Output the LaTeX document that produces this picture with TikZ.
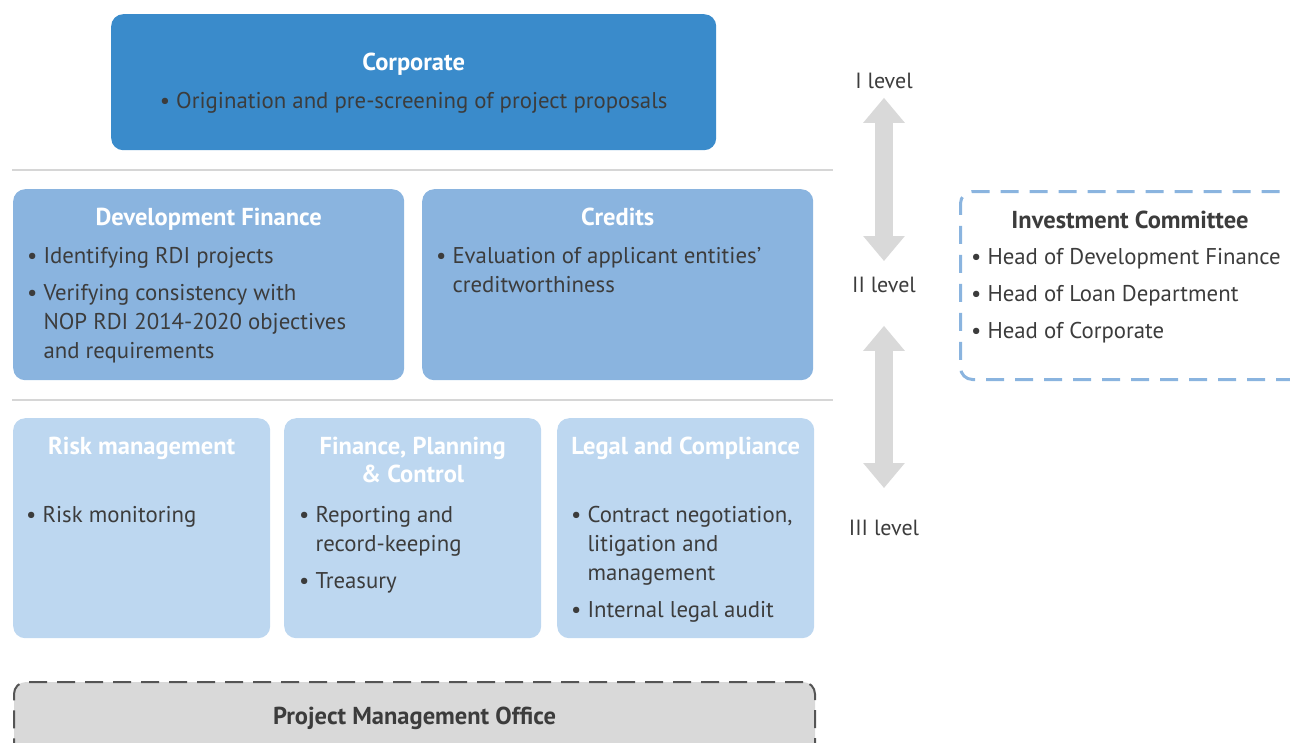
\documentclass[tikz,border=0pt]{standalone}
\usepackage{fontspec}
\setmainfont{PT Sans}
\usetikzlibrary{calc, arrows.meta}

\definecolor{corpblue}{HTML}{3A8BCB}
\definecolor{midblue}{HTML}{8AB4DF}
\definecolor{paleblue}{HTML}{BDD7F0}
\definecolor{levelgray}{HTML}{D9D9D9}
\definecolor{rulegray}{HTML}{D6D6D6}
\definecolor{dashgray}{HTML}{555555}
\definecolor{inkgray}{HTML}{3C3C3C}

\newcommand{\bul}{\textbullet}
\newcommand{\itemlist}[1]{\begin{tabular}[t]{@{}l@{\hspace{6pt}}l@{}}#1\end{tabular}}

\begin{document}
\begin{tikzpicture}[x=1pt, y=-1pt,
    box/.style={rectangle, rounded corners=12pt, anchor=north west, inner sep=0pt},
    head/.style={anchor=base, inner sep=0pt, text=white, font=\fontsize{24.5}{28}\selectfont\bfseries},
    items/.style={anchor=base west, inner sep=0pt, text=inkgray, font=\fontsize{22.8}{29}\selectfont},
    level/.style={anchor=base, text=inkgray, font=\fontsize{22}{29}\selectfont},
    levelarrow/.style={draw=levelgray, line width=18pt, {Triangle[width=40pt, length=25pt]}-{Triangle[width=40pt, length=25pt]}},
    rule/.style={draw=rulegray, line width=2pt}]

    \useasboundingbox (0,0) rectangle (1290,742);
    \clip (0,0) rectangle (1290,742);

    %% Level I
    \node (corp) [box, fill=corpblue, minimum width=605pt, minimum height=136pt] at (111,14) {};
    \node (corphead) [head] at ($(corp.north)+(0,56)$) {Corporate};
    \node (corpitem) [items, anchor=base] at ($(corp.north)+(0,94)$) {\bul\ Origination and pre-screening of project proposals};

    \draw [rule] (12,170) -- (833,170);

    %% Level II
    \node (devfin) [box, fill=midblue, minimum width=391pt, minimum height=191pt] at (13,189) {};
    \node (devfinhead) [head] at ($(devfin.north)+(0,36)$) {Development Finance};
    \node (devfinitems) [items] at ($(devfin.north west)+(14,74)$) {\itemlist{
        \bul & Identifying RDI projects\\[8pt]
        \bul & Verifying consistency with\\
             & NOP RDI 2014-2020 objectives\\
             & and requirements}};

    \node (credits) [box, fill=midblue, minimum width=391pt, minimum height=191pt] at (422,189) {};
    \node (creditshead) [head] at ($(credits.north)+(0,36)$) {Credits};
    \node (creditsitems) [items] at ($(credits.north west)+(14,74)$) {\itemlist{
        \bul & Evaluation of applicant entities'\\
             & creditworthiness}};

    \draw [rule] (12,400) -- (833,400);

    %% Level III
    \node (risk) [box, fill=paleblue, minimum width=257pt, minimum height=220pt] at (13,418) {};
    \node (riskhead) [head] at ($(risk.north)+(0,36)$) {Risk management};
    \node (riskitems) [items] at ($(risk.north west)+(13,104)$) {\itemlist{
        \bul & Risk monitoring}};

    \node (fpc) [box, fill=paleblue, minimum width=257pt, minimum height=220pt] at (284,418) {};
    \node (fpchead) [head] at ($(fpc.north)+(0,36)$) {\begin{tabular}[t]{@{}c@{}}Finance, Planning\\ \& Control\end{tabular}};
    \node (fpcitems) [items] at ($(fpc.north west)+(15,104)$) {\itemlist{
        \bul & Reporting and\\
             & record-keeping\\[8pt]
        \bul & Treasury}};

    \node (legal) [box, fill=paleblue, minimum width=257pt, minimum height=220pt] at (557,418) {};
    \node (legalhead) [head] at ($(legal.north)+(0,36)$) {Legal and Compliance};
    \node (legalitems) [items] at ($(legal.north west)+(14,104)$) {\itemlist{
        \bul & Contract negotiation,\\
             & litigation and\\
             & management\\[8pt]
        \bul & Internal legal audit}};

    %% Project Management Office
    \node (pmo) [box, fill=levelgray, draw=dashgray, line width=2pt, dash pattern=on 18pt off 10pt, minimum width=801pt, minimum height=90pt] at (13,681) {};
    \node (pmohead) [head, text=inkgray] at ($(pmo.north)+(0,43)$) {Project Management Office};

    %% Investment Committee
    \node (invcom) [box, draw=midblue, line width=3pt, dash pattern=on 18pt off 11pt, minimum width=360pt, minimum height=188pt] at (959,190) {};
    \node (invcomhead) [head, text=inkgray] at (1130,228) {Investment Committee};
    \node (invcomitems) [items] at ($(invcom.north west)+(12,74)$) {\itemlist{
        \bul & Head of Development Finance\\[8pt]
        \bul & Head of Loan Department\\[8pt]
        \bul & Head of Corporate}};

    %% Levels
    \node (lvlI) [level] at (884,88) {I level};
    \node (lvlII) [level] at (884,292) {II level};
    \node (lvlIII) [level] at (884,535) {III level};
    \draw [levelarrow, shorten <=6pt, shorten >=12pt] (lvlI) -- (lvlII);
    \draw [levelarrow, shorten <=30pt, shorten >=28pt] (lvlII) -- (lvlIII);

\end{tikzpicture}
\end{document}
